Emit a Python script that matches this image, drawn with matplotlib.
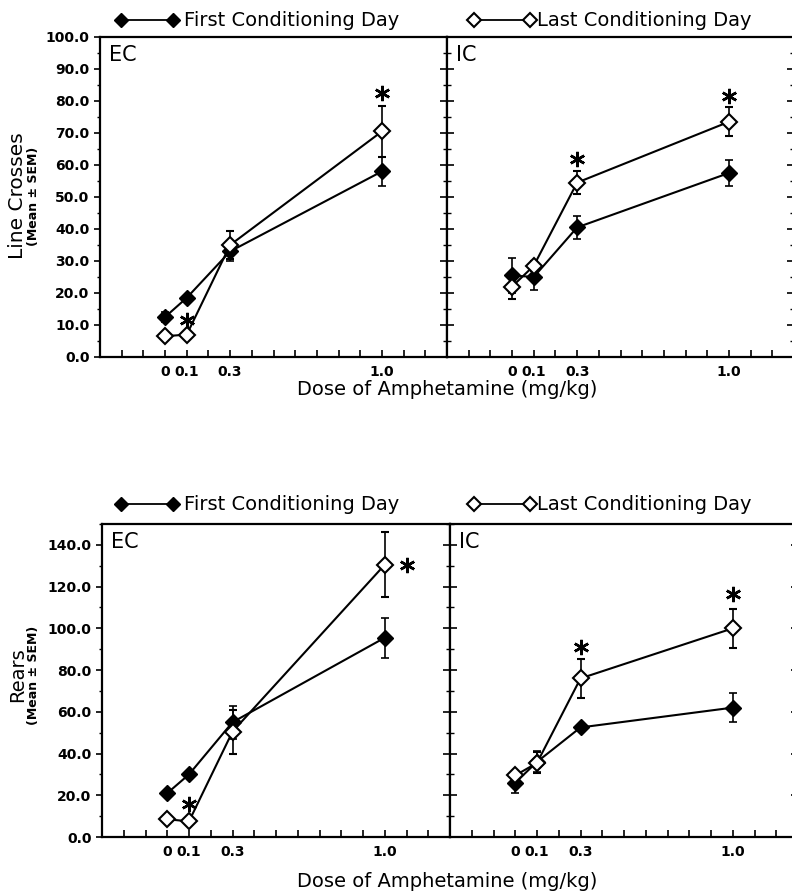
import matplotlib
matplotlib.use("Agg")
import matplotlib.pyplot as plt
from matplotlib.lines import Line2D
from matplotlib.ticker import MultipleLocator, FixedLocator, FormatStrFormatter

plt.rcParams['font.family'] = ['DejaVu Sans']

doses = [0.0, 0.1, 0.3, 1.0]
dose_labels = ["0", "0.1", "0.3", "1.0"]

# Line crosses
ec_cross_first = [12.5, 18.5, 33.0, 58.0]
ec_cross_first_err = [1.5, 1.0, 3.0, 4.5]
ec_cross_last = [6.5, 7.0, 35.0, 70.5]
ec_cross_last_err = [1.0, 1.0, 4.5, 8.0]
ic_cross_first = [25.5, 25.0, 40.5, 57.5]
ic_cross_first_err = [5.5, 4.0, 3.5, 4.0]
ic_cross_last = [22.0, 28.5, 54.5, 73.5]
ic_cross_last_err = [4.0, 1.5, 3.5, 4.5]

# Rears
ec_rear_first = [21.0, 30.0, 55.0, 95.5]
ec_rear_first_err = [1.0, 1.5, 8.0, 9.5]
ec_rear_last = [8.5, 7.5, 50.5, 130.5]
ec_rear_last_err = [1.0, 1.5, 10.5, 15.5]
ic_rear_first = [26.0, 36.0, 52.5, 62.0]
ic_rear_first_err = [5.0, 5.0, 1.5, 7.0]
ic_rear_last = [29.5, 35.5, 76.0, 100.0]
ic_rear_last_err = [2.0, 5.0, 9.5, 9.5]

# significance stars (x, y)
ec_cross_star_x = [0.1, 1.0]
ec_cross_star_y = [11.5, 82.5]
ic_cross_star_x = [0.3, 1.0]
ic_cross_star_y = [62.0, 81.5]
ec_rear_star_x = [0.1, 1.1]
ec_rear_star_y = [16.0, 130.5]
ic_rear_star_x = [0.3, 1.0]
ic_rear_star_y = [91.0, 116.5]

W, H = 792, 896
fig = plt.figure(figsize=(W / 100, H / 100), dpi=100)


def fx(px):
    return px / W


def fy(py):
    return 1 - py / H


def panel(rect, first, ferr, last, lerr, sx, sy, ymax, major, minor, label, is_left):
    ax = fig.add_axes(rect)
    ax.set_xlim(-0.3, 1.3)
    ax.set_ylim(0, ymax)
    ax.errorbar(doses, first, yerr=ferr, color='black', lw=1.5, marker='D', ms=8,
                mfc='black', mec='black', capsize=3, elinewidth=1.2, capthick=1.2, zorder=3)
    ax.errorbar(doses, last, yerr=lerr, color='black', lw=1.5, marker='D', ms=8,
                mfc='white', mec='black', mew=1.5, capsize=3, elinewidth=1.2, capthick=1.2, zorder=4)
    ax.plot(sx, sy, linestyle='none', marker=(6, 2, 0), ms=11, mew=1.8, color='black', zorder=5)
    ax.text(0.025, 0.975, label, transform=ax.transAxes, ha='left', va='top', fontsize=15)
    for s in ax.spines.values():
        s.set_linewidth(1.6)
    ax.xaxis.set_major_locator(FixedLocator(doses))
    ax.set_xticklabels(dose_labels, fontsize=10, fontweight='bold')
    ax.xaxis.set_minor_locator(MultipleLocator(0.1))
    ax.tick_params(axis='x', which='both', direction='in', length=5, width=1.2, pad=6)
    ax.yaxis.set_major_locator(MultipleLocator(major))
    ax.yaxis.set_minor_locator(MultipleLocator(minor))
    if is_left:
        ax.tick_params(axis='y', which='major', direction='out', length=4, width=1.2, labelsize=10)
        ax.tick_params(axis='y', which='minor', direction='out', length=2, width=1.0)
        ax.yaxis.set_major_formatter(FormatStrFormatter('%.1f'))
        for t in ax.get_yticklabels():
            t.set_fontweight('bold')
    else:
        ax.tick_params(axis='y', which='major', direction='inout', length=10, width=1.2,
                       labelleft=False, right=True)
        ax.tick_params(axis='y', which='minor', direction='inout', length=6, width=1.0, right=True)
    return ax


# top row
top_b = fy(357)
top_h = 320 / H
panel([fx(100), top_b, 347 / W, top_h], ec_cross_first, ec_cross_first_err,
      ec_cross_last, ec_cross_last_err, ec_cross_star_x, ec_cross_star_y,
      100, 10, 5, "EC", True)
panel([fx(447), top_b, 347 / W, top_h], ic_cross_first, ic_cross_first_err,
      ic_cross_last, ic_cross_last_err, ic_cross_star_x, ic_cross_star_y,
      100, 10, 5, "IC", False)

# bottom row
bot_b = fy(837)
bot_h = 313 / H
panel([fx(102), bot_b, 348 / W, bot_h], ec_rear_first, ec_rear_first_err,
      ec_rear_last, ec_rear_last_err, ec_rear_star_x, ec_rear_star_y,
      150, 20, 10, "EC", True)
panel([fx(450), bot_b, 348 / W, bot_h], ic_rear_first, ic_rear_first_err,
      ic_rear_last, ic_rear_last_err, ic_rear_star_x, ic_rear_star_y,
      150, 20, 10, "IC", False)


def legend(py):
    y = fy(py)
    fig.add_artist(Line2D([fx(121), fx(173)], [y, y], color='black', lw=1.3,
                          marker='D', ms=7, mfc='black', mec='black'))
    fig.text(fx(184), y, "First Conditioning Day", ha='left', va='center', fontsize=14)
    fig.add_artist(Line2D([fx(474), fx(530)], [y, y], color='black', lw=1.3,
                          marker='D', ms=7, mfc='white', mec='black', mew=1.5))
    fig.text(fx(537), y, "Last Conditioning Day", ha='left', va='center', fontsize=14)


legend(20)
legend(504)

# axis labels
fig.text(fx(447), fy(389), "Dose of Amphetamine (mg/kg)", ha='center', va='center', fontsize=14)
fig.text(fx(447), fy(881), "Dose of Amphetamine (mg/kg)", ha='center', va='center', fontsize=14)

fig.text(fx(18), fy(196), "Line Crosses", rotation=90, ha='center', va='center', fontsize=14.5)
fig.text(fx(34), fy(196), "(Mean \u00b1 SEM)", rotation=90, ha='center', va='center',
         fontsize=9, fontweight='bold')
fig.text(fx(18), fy(675), "Rears", rotation=90, ha='center', va='center', fontsize=14)
fig.text(fx(34), fy(675), "(Mean \u00b1 SEM)", rotation=90, ha='center', va='center',
         fontsize=9, fontweight='bold')

fig.savefig("out.png", dpi=100)
